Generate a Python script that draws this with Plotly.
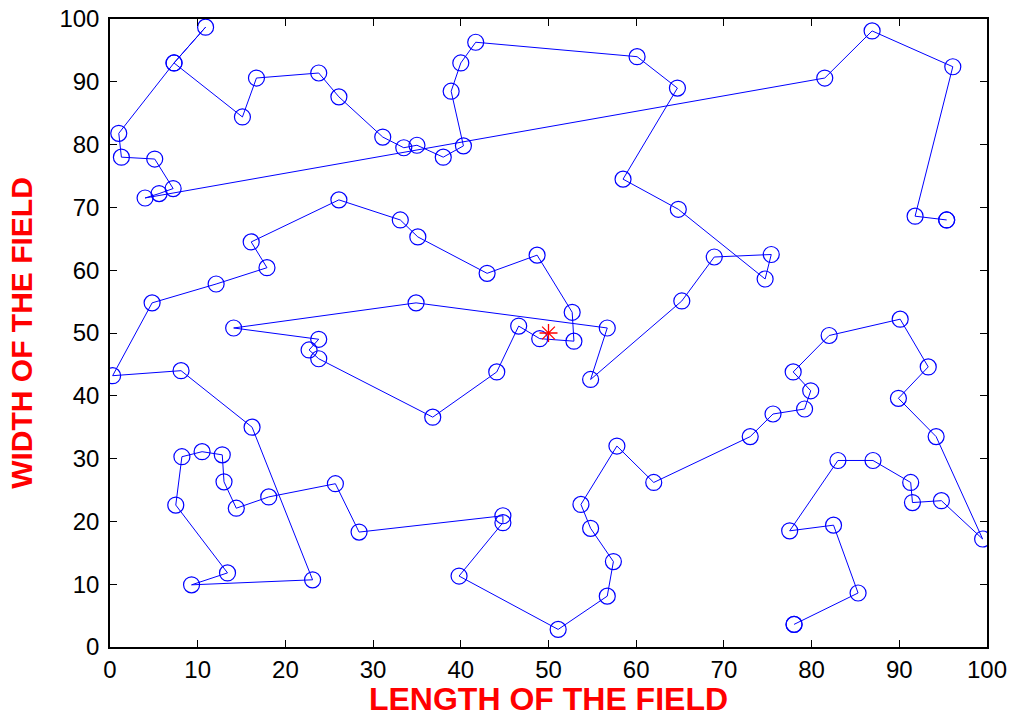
import plotly.graph_objects as go

# Route through the sensor nodes, in visiting order
route_x = [78.0, 78.0, 85.3, 82.5, 77.5, 83.0, 87.0, 91.3, 91.5, 94.8, 99.5,
           94.2, 89.9, 93.3, 90.1, 82.0, 77.9, 79.9, 79.2, 75.6, 73.0,
           62.0, 57.8, 53.7, 54.8, 57.4, 56.7, 51.1, 39.8, 44.8, 44.8,
           28.4, 25.7, 18.1, 14.4, 13.0, 12.8, 10.5, 8.2, 7.5, 13.4, 9.3,
           23.1, 16.2, 8.1, 0.3, 4.8, 12.1, 17.9, 16.1, 26.1, 33.1, 35.1,
           43.0, 48.7, 52.7, 52.9, 49.0, 46.6, 44.1, 36.8, 23.8, 22.7,
           23.8, 14.1, 34.9, 56.7, 54.8, 65.2, 68.9, 75.4, 74.7, 64.8,
           58.5, 64.7, 60.1, 41.7, 40.0, 38.9, 40.3, 38.0, 35.0, 33.5,
           31.1, 26.1, 23.8, 16.7, 15.1, 7.3, 10.9, 7.3, 1.0, 1.3, 5.1,
           7.2, 5.6, 4.0, 81.5, 86.9, 96.1, 91.8, 95.4, 95.4]
route_y = [3.6, 3.6, 8.6, 19.4, 18.5, 29.7, 29.7, 26.2, 23.0, 23.3, 17.2,
           33.5, 39.6, 44.6, 52.2, 49.6, 43.8, 40.8, 37.9, 37.1, 33.5,
           26.2, 32.0, 22.7, 18.9, 13.6, 8.1, 2.8, 11.3, 19.8, 20.9,
           18.3, 26.0, 23.9, 22.1, 26.3, 30.6, 31.1, 30.3, 22.6, 11.8, 9.9,
           10.7, 35.0, 44.0, 43.2, 54.8, 57.8, 60.4, 64.5, 71.2, 68.0, 65.3,
           59.5, 62.4, 53.3, 48.7, 49.1, 51.1, 43.8, 36.6, 45.9, 47.3,
           49.0, 50.8, 54.8, 50.8, 42.6, 55.1, 62.1, 62.5, 58.6, 69.7,
           74.5, 89.0, 94.0, 96.3, 93.0, 88.5, 79.8, 78.0, 79.9, 79.5,
           81.2, 87.6, 91.4, 90.6, 84.4, 93.0, 98.7, 93.0, 81.8, 78.0, 77.7,
           73.0, 72.2, 71.5, 90.6, 98.1, 92.4, 68.6, 68.0, 68.0]

# Base station in the middle of the field
sink_x = [50.0]
sink_y = [50.0]

x_ticks = [0, 10, 20, 30, 40, 50, 60, 70, 80, 90, 100]
y_ticks = [0, 10, 20, 30, 40, 50, 60, 70, 80, 90, 100]

fig = go.Figure()
fig.add_trace(go.Scatter(
    x=route_x, y=route_y, mode="lines+markers",
    line=dict(color="#0000ff", width=1),
    marker=dict(symbol="circle-open", size=16, color="#0000ff",
                line=dict(width=1.2, color="#0000ff")),
    showlegend=False, hoverinfo="x+y",
))
fig.add_trace(go.Scatter(
    x=sink_x, y=sink_y, mode="markers",
    marker=dict(symbol="asterisk-open", size=15, color="#ff0000",
                line=dict(width=1.3, color="#ff0000")),
    showlegend=False,
))

axis_common = dict(
    showgrid=False, zeroline=False, automargin=False,
    showline=True, linecolor="black", linewidth=1.5, mirror="ticks",
    ticks="inside", ticklen=7, tickcolor="black", tickwidth=1,
    tickfont=dict(family="Liberation Sans, Arial", size=24, color="black"),
)

fig.update_xaxes(
    range=[0, 100], tickvals=x_ticks, **axis_common,
    title=dict(text="<b>LENGTH OF THE FIELD</b>", standoff=12,
               font=dict(family="Liberation Sans, Arial", size=32, color="#ff0000")),
)
fig.update_yaxes(
    range=[0, 100], tickvals=y_ticks, ticklabelstandoff=4, **axis_common,
    title=dict(text="<b>WIDTH OF THE FIELD</b>", standoff=18,
               font=dict(family="Liberation Sans, Arial", size=30, color="#ff0000")),
)

fig.update_layout(
    width=1014, height=717,
    margin=dict(l=110, r=27, t=19, b=70),
    paper_bgcolor="white", plot_bgcolor="white",
)

fig.write_html("out.html")
